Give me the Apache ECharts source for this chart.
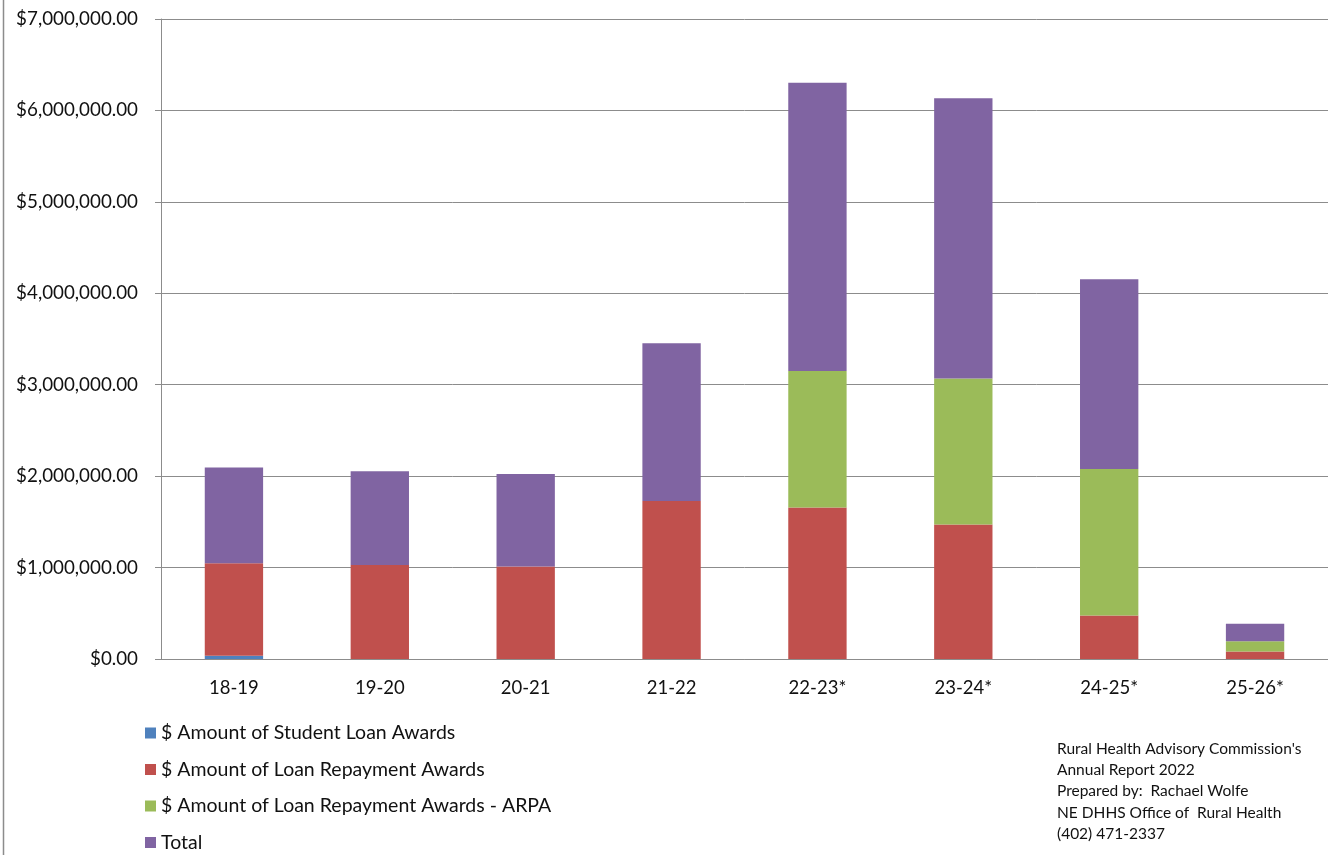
<!DOCTYPE html>
<html>
<head>
<meta charset="utf-8">
<script src="https://cdn.jsdelivr.net/npm/echarts@6/dist/echarts.min.js"></script>
<style>
  html, body { margin: 0; padding: 0; background: #fff; }
  #chart { width: 1328px; height: 855px; }
</style>
</head>
<body>
<div id="chart"></div>
<script>
const categories = ["18-19", "19-20", "20-21", "21-22", "22-23*", "23-24*", "24-25*", "25-26*"];
const studentLoan = [36000, 0, 0, 0, 0, 0, 0, 0];
const loanRepayment = [1011000, 1027000, 1012000, 1727000, 1657000, 1471000, 477000, 83000];
const loanRepaymentArpa = [0, 0, 0, 0, 1494000, 1596000, 1600000, 110000];
const total = [1047000, 1027000, 1012000, 1727000, 3151000, 3067000, 2077000, 193000];

const seriesNames = [
  "$ Amount of Student Loan Awards",
  "$ Amount of Loan Repayment Awards",
  "$ Amount of Loan Repayment Awards - ARPA",
  "Total",
];
const colors = ["#4f81bd", "#c0504d", "#9bbb59", "#8064a2"];
const noteLines = [
  "Rural Health Advisory Commission's",
  "Annual Report 2022",
  "Prepared by:  Rachael Wolfe",
  "NE DHHS Office of  Rural Health",
  "(402) 471-2337",
];

const font = "Lato, 'Open Sans', sans-serif";
const gridColor = "#8c8c8c";

const chart = echarts.init(document.getElementById("chart"));

const makeBar = (name, data, color) => ({
  name,
  type: "bar",
  stack: "awards",
  data,
  barWidth: "40%",
  itemStyle: { color },
  emphasis: { disabled: true },
});

chart.setOption({
  backgroundColor: "#fff",
  animation: false,
  textStyle: { fontFamily: font },
  color: colors,
  grid: {
    left: 161,
    top: 19,
    width: 1170.4,
    bottom: 196,
  },
  legend: {
    orient: "vertical",
    left: 145,
    top: 723,
    padding: 0,
    itemWidth: 11,
    itemHeight: 11,
    itemGap: 16.5,
    icon: "rect",
    selectedMode: false,
    textStyle: { fontFamily: font, fontSize: 19.5, color: "#111" },
    data: seriesNames,
  },
  xAxis: {
    type: "category",
    data: categories,
    axisLine: { lineStyle: { color: gridColor, width: 1 } },
    axisTick: { length: 6, lineStyle: { color: gridColor } },
    axisLabel: { fontFamily: font, fontSize: 18.5, color: "#111", margin: 20 },
  },
  yAxis: {
    type: "value",
    min: 0,
    max: 7000000,
    interval: 1000000,
    axisLine: { show: true, lineStyle: { color: gridColor, width: 1 } },
    axisTick: { show: true, length: 6, lineStyle: { color: gridColor } },
    splitLine: { lineStyle: { color: gridColor, width: 1 } },
    axisLabel: {
      fontFamily: font,
      fontSize: 18.8,
      color: "#111",
      margin: 23,
      formatter: (v) => "$" + v.toLocaleString("en-US", { minimumFractionDigits: 2, maximumFractionDigits: 2 }),
    },
  },
  graphic: [
    {
      type: "line",
      shape: { x1: 3.5, y1: 0, x2: 3.5, y2: 855 },
      style: { stroke: "#8c8c8c", lineWidth: 1.5 },
    },
    {
      type: "text",
      left: 1057,
      top: 738,
      style: {
        text: noteLines.join("\n"),
        fontFamily: font,
        fontSize: 15.5,
        lineHeight: 21.3,
        fill: "#111",
      },
    },
  ],
  series: [
    makeBar(seriesNames[0], studentLoan, colors[0]),
    makeBar(seriesNames[1], loanRepayment, colors[1]),
    makeBar(seriesNames[2], loanRepaymentArpa, colors[2]),
    makeBar(seriesNames[3], total, colors[3]),
  ],
});
</script>
</body>
</html>
